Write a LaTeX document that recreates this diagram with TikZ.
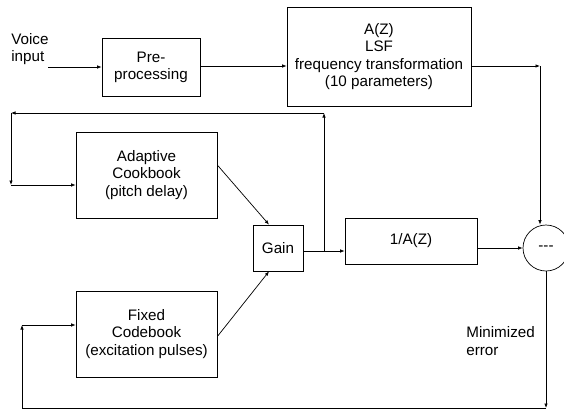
\documentclass[tikz,border=0pt]{standalone}
\usepackage{fontspec}
\setmainfont{Liberation Sans}
\usetikzlibrary{arrows.meta}

\begin{document}
\begin{tikzpicture}[x=1pt,y=-1pt,>={Latex[length=4.5pt,width=3.5pt]},line width=0.7pt,
  blok/.style={draw, rectangle, align=center, inner sep=0pt},
  teksti/.style={align=left, inner sep=0pt, anchor=west}]
\fontsize{15.2}{17.3}\selectfont
\useasboundingbox (0,0) rectangle (564,410);

\node[teksti] (voice) at (11,49) {Voice\\input};
\node[blok, minimum width=98, minimum height=58] (pre) at (151,67) {Pre-\\processing};
\node[blok, minimum width=184, minimum height=99] (az) at (379,56.5) {A(Z)\\LSF\\frequency transformation\\(10 parameters)};
\node[blok, minimum width=141, minimum height=86] (adapt) at (146.5,175) {Adaptive\\Cookbook\\(pitch delay)};
\node[blok, minimum width=141, minimum height=86] (fixed) at (146.5,334) {Fixed\\Codebook\\(excitation pulses)};
\node[blok, minimum width=50, minimum height=46] (gain) at (278,248) {Gain};
\node[blok, minimum width=132, minimum height=46] (inv) at (411,241) {1/A(Z)};
\node[draw, circle, minimum size=46, inner sep=0pt] (sub) at (546,248) {-{}-{}-};
\node[teksti] (err) at (466,341) {Minimized\\error};

\coordinate (vin) at (48,67);
\coordinate (c1) at (540,66);
\coordinate (tap) at (324,251);
\coordinate (fb1) at (324,113);
\coordinate (fb2) at (11,113);
\coordinate (fb3) at (11,185);
\coordinate (bt) at (546,408);
\coordinate (bl) at (22,408);
\coordinate (fl) at (22,325);

\path[draw,->] (vin) -- (pre.west |- vin);
\path[draw,->] (pre.east |- c1) -- (az.west |- c1);
\path[draw,->] (az.east |- c1) -- (c1);
\path[draw,->] (c1) -- (c1 |- sub.north);
\path[draw,->] (adapt.8) -- (gain.111);
\path[draw,->] (fixed.-2) -- (gain.-111);
\path[draw,->] (gain.east |- tap) -- (inv.west |- tap);
\path[draw,->] (inv.east |- sub.west) -- (sub.west);
\path[draw,->] (tap) -- (fb1);
\path[draw,->] (fb1) -- (fb2);
\path[draw,->] (fb2) -- (fb3);
\path[draw,->] (fb3) -- (adapt.west |- fb3);
\path[draw,->] (sub.south) -- (bt);
\path[draw] (bt) -- (bl);
\path[draw,->] (bl) -- (fl);
\path[draw,->] (fl) -- (fixed.west |- fl);
\end{tikzpicture}
\end{document}
